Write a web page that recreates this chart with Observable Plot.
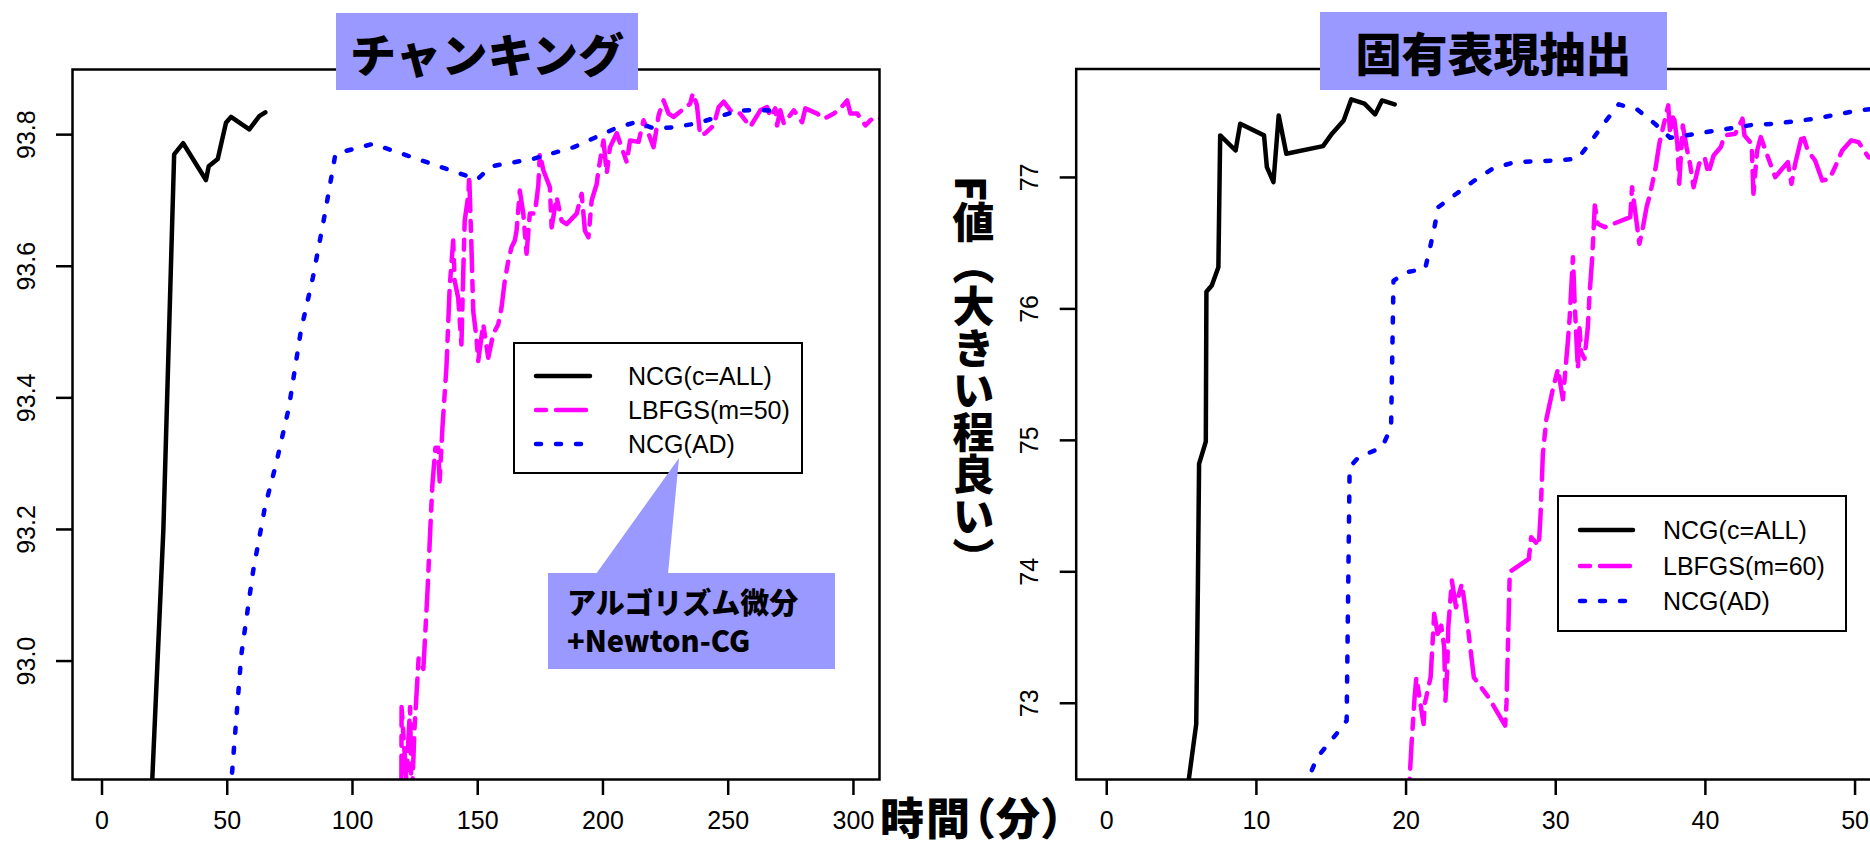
<!DOCTYPE html>
<html><head><meta charset="utf-8">
<script src="https://cdn.jsdelivr.net/npm/d3@7"></script>
<script src="https://cdn.jsdelivr.net/npm/@observablehq/plot@0.6"></script>
<style>
html,body{margin:0;padding:0;background:#fff;}
body{width:1870px;height:845px;overflow:hidden;position:relative;}
.abs{position:absolute;}
.jp{font-family:"Noto Sans CJK JP","Noto Sans CJK SC",sans-serif;font-weight:900;color:#000;}
.title{background:#9999FF;display:flex;align-items:center;justify-content:center;font-size:46px;line-height:1;}
.legend{background:#fff;border:2.5px solid #000;box-sizing:border-box;font-family:"Liberation Sans",Arial,sans-serif;font-size:25px;}
.legend .row{position:absolute;left:0;height:0;}
.legend .lab{position:absolute;transform:translateY(-50%);white-space:nowrap;line-height:1;}
svg{max-width:none !important;}
</style></head><body>
<div id="left" class="abs" style="left:0;top:0;width:900px"></div>
<div id="right" class="abs" style="left:935px;top:0;width:960px"></div>
<div id="overlay"></div>
<script>
// ---------- data ----------
const chunkXTicks = [0, 50, 100, 150, 200, 250, 300];
const chunkYTicks = [93.0, 93.2, 93.4, 93.6, 93.8];
const nerXTicks = [0, 10, 20, 30, 40, 50];
const nerYTicks = [73, 74, 75, 76, 77];

const chunkLegend = ["NCG(c=ALL)", "LBFGS(m=50)", "NCG(AD)"];
const nerLegend = ["NCG(c=ALL)", "LBFGS(m=60)", "NCG(AD)"];

// チャンキング: [time (min), F value]
const chunkNcgAll = [[19.6,92.78],[24.5,93.2],[28.8,93.77],[32.4,93.787],[41.5,93.731],[42.6,93.752],[46.2,93.763],[49.5,93.818],[51.5,93.827],[58.8,93.808],[62.8,93.828],[65.2,93.834]];
const chunkNcgAD = [[51.3,92.80],[55.6,93.009],[60.3,93.136],[65.1,93.235],[69.4,93.298],[74.6,93.385],[79.4,93.502],[84.2,93.583],[89.0,93.680],[93.2,93.771],[108.2,93.786],[149.8,93.732],[155.5,93.752],[171.9,93.763],[188.4,93.781],[205.2,93.810],[213.0,93.819],[220.8,93.809],[227.4,93.811],[237.5,93.817],[253.5,93.836],[261.8,93.838],[271.0,93.835]];
const chunkLbfgs = [[119.5,92.78],[119.6,92.93],[121.5,92.82],[123.0,92.93],[123.6,92.78],[124.8,92.90],[126.4,93.004],[128.3,92.988],[130.0,93.110],[131.2,93.212],[131.9,93.268],[133.1,93.324],[134.2,93.324],[134.8,93.273],[135.9,93.354],[137.5,93.446],[138.2,93.512],[138.8,93.568],[140.2,93.639],[140.8,93.578],[142.2,93.552],[143.5,93.481],[144.2,93.588],[144.8,93.669],[146.3,93.710],[146.6,93.738],[147.5,93.629],[148.2,93.532],[149.5,93.491],[150.2,93.456],[152.2,93.512],[154.2,93.461],[156.2,93.497],[158.2,93.512],[159.5,93.537],[160.8,93.578],[162.2,93.608],[163.5,93.629],[164.8,93.639],[165.5,93.654],[166.8,93.715],[168.2,93.680],[169.5,93.619],[170.8,93.680],[172.8,93.680],[174.2,93.723],[174.8,93.771],[176.2,93.746],[178.8,93.720],[179.5,93.659],[181.5,93.705],[183.5,93.669],[185.5,93.664],[189.5,93.680],[191.5,93.710],[192.8,93.654],[194.2,93.644],[195.5,93.700],[197.5,93.725],[198.2,93.746],[200.2,93.791],[201.5,93.741],[202.8,93.781],[205.5,93.802],[209.5,93.758],[210.8,93.791],[214.2,93.789],[216.2,93.822],[220.2,93.781],[222.2,93.829],[224.2,93.852],[226.2,93.832],[228.2,93.827],[231.5,93.837],[234.8,93.847],[235.9,93.863],[237.5,93.845],[238.8,93.799],[240.8,93.802],[244.2,93.814],[246.2,93.842],[248.2,93.850],[251.5,93.834],[254.8,93.832],[258.8,93.812],[262.8,93.837],[265.5,93.842],[266.8,93.827],[268.8,93.840],[269.5,93.814],[270.8,93.837],[272.2,93.817],[276.2,93.837],[279.5,93.819],[280.8,93.840],[285.5,93.832],[288.2,93.824],[292.2,93.832],[294.8,93.840],[297.5,93.852],[298.8,93.832],[301.5,93.832],[304.8,93.814],[306.8,93.822],[309.5,93.827],[311.5,93.823],[314.0,93.825]];

// 固有表現抽出: [time (min), F value]
const nerNcgAll = [[5.4,72.35],[5.98,72.842],[6.09,73.882],[6.17,74.821],[6.62,74.99],[6.66,76.13],[7.02,76.178],[7.46,76.317],[7.58,77.32],[8.61,77.205],[8.92,77.409],[10.51,77.32],[10.70,77.078],[11.14,76.964],[11.49,77.472],[12.00,77.18],[14.45,77.238],[15.05,77.333],[15.83,77.434],[16.34,77.594],[17.22,77.561],[17.93,77.479],[18.39,77.586],[19.24,77.556]];
const nerNcgAD = [[13.2,72.35],[14.06,72.588],[15.17,72.741],[16.03,72.868],[16.23,74.795],[16.82,74.871],[18.40,74.947],[19.0,75.10],[19.16,76.213],[19.96,76.279],[21.27,76.303],[21.56,76.444],[21.90,76.622],[22.15,76.774],[23.36,76.876],[24.57,76.977],[25.78,77.066],[27.23,77.116],[30.02,77.129],[31.47,77.142],[32.32,77.269],[33.29,77.421],[34.21,77.556],[35.47,77.515],[36.62,77.409],[37.64,77.302],[39.09,77.327],[40.43,77.352],[41.76,77.375],[43.21,77.401],[44.67,77.409],[46.00,77.428],[47.33,77.447],[48.78,77.479],[50.23,77.51],[51.8,77.53]];
const nerLbfgs = [[20.2,72.35],[20.38,72.715],[20.57,73.045],[20.69,73.197],[21.17,72.842],[21.25,72.995],[21.64,73.197],[21.88,73.68],[22.16,73.502],[22.35,73.591],[22.55,73.425],[22.63,73.02],[22.75,73.248],[22.82,73.578],[23.06,73.933],[23.34,73.73],[23.54,73.832],[23.73,73.908],[24.13,73.578],[24.53,73.197],[25.51,73.045],[26.62,72.83],[26.71,72.997],[26.93,74.0],[28.20,74.098],[28.36,74.263],[28.87,74.199],[28.99,74.441],[29.14,74.897],[29.37,75.158],[29.81,75.39],[30.15,75.544],[30.48,75.312],[30.81,75.75],[30.93,75.93],[31.15,76.393],[31.26,76.059],[31.37,75.801],[31.48,75.544],[31.59,75.852],[31.70,75.673],[31.92,75.621],[32.14,75.852],[32.26,76.11],[32.44,76.393],[32.61,76.787],[32.80,76.648],[33.29,76.622],[34.98,76.698],[35.10,76.926],[35.59,76.495],[35.83,76.622],[36.07,76.774],[36.31,76.876],[36.68,77.078],[36.92,77.256],[37.28,77.434],[37.52,77.548],[37.64,77.333],[37.88,77.485],[38.13,77.256],[38.25,76.952],[38.49,77.396],[38.74,77.231],[38.97,77.104],[39.21,76.926],[39.58,77.104],[39.95,77.154],[40.19,77.028],[40.55,77.167],[41.03,77.231],[41.28,77.32],[42.00,77.333],[42.48,77.447],[42.61,77.32],[43.09,77.256],[43.21,76.876],[43.46,77.205],[43.70,77.307],[44.18,77.154],[44.67,77.002],[45.03,77.053],[45.51,77.116],[45.75,76.952],[46.00,77.104],[46.48,77.333],[46.84,77.205],[47.33,77.129],[47.81,76.977],[48.29,76.99],[48.66,77.078],[49.14,77.205],[49.75,77.282],[50.23,77.269],[50.60,77.205],[50.90,77.154],[51.8,77.13]];

// ---------- styles ----------
const styles = [
  {color: "#000000", dash: null},
  {color: "#FF00FF", dash: "10,10,30,10"},
  {color: "#0000FF", dash: "5,15"}
];
const LW = 4.5;
const H = 845;

function panel(cfg) {
  const marks = [];
  cfg.series.forEach((data, i) => {
    marks.push(Plot.line(data, {x: d => d[0], y: d => d[1], stroke: styles[i].color, strokeWidth: LW,
      strokeDasharray: styles[i].dash, strokeLinecap: "round", strokeLinejoin: "round", clip: true}));
  });
  marks.push(Plot.frame({stroke: "#000", strokeWidth: 2.5}));
  marks.push(Plot.axisX({ticks: cfg.xTicks, tickSize: 16, tickPadding: 16, strokeWidth: 2.5, fontSize: 25, label: null, tickFormat: d => String(d)}));
  marks.push(Plot.axisY({ticks: cfg.yTicks, tickSize: 16, strokeWidth: 2.5, label: null, tickFormat: () => ""}));
  marks.push(Plot.text(cfg.yTicks, {y: d => d, text: cfg.yFmt, frameAnchor: "left", dx: -46, rotate: -90,
    fontSize: 25, textAnchor: "middle", lineAnchor: "middle"}));
  return Plot.plot({
    width: cfg.width, height: H,
    marginLeft: cfg.ml, marginRight: cfg.mr, marginTop: cfg.mt, marginBottom: H - 779,
    x: {domain: cfg.xDomain}, y: {domain: cfg.yDomain},
    style: {fontFamily: '"Liberation Sans", Arial, sans-serif', background: "transparent", overflow: "visible", maxWidth: "none"},
    marks
  });
}

document.getElementById("left").appendChild(panel({
  width: 900, ml: 72, mr: 21, mt: 69,
  xDomain: [-11.78, 310.4], yDomain: [92.820, 93.899],
  xTicks: chunkXTicks, yTicks: chunkYTicks, yFmt: d => d.toFixed(1),
  series: [chunkNcgAll, chunkLbfgs, chunkNcgAD]
}));
document.getElementById("right").appendChild(panel({
  width: 960, ml: 140.7, mr: 15, mt: 68.5,
  xDomain: [-2.04, 51.7], yDomain: [72.42, 77.825],
  xTicks: nerXTicks, yTicks: nerYTicks, yFmt: d => String(d),
  series: [nerNcgAll, nerLbfgs, nerNcgAD]
}));

// ---------- legends / annotations ----------
const ov = document.getElementById("overlay");
function el(html) { const d = document.createElement("div"); d.innerHTML = html; ov.appendChild(d.firstElementChild); }

function legend(x, y, w, h, rowY, sx1, sx2, tx, labels) {
  let rows = "";
  labels.forEach((lab, i) => {
    const s = styles[i];
    rows += `<div class="row" style="top:${rowY[i]}px;width:${w}px">
      <svg style="position:absolute;left:0;top:-10px;overflow:visible" width="${w}" height="20">
        <line x1="${sx1}" x2="${sx2}" y1="10" y2="10" stroke="${s.color}" stroke-width="${LW}" stroke-linecap="round" ${s.dash ? `stroke-dasharray="${s.dash}"` : ""}/>
      </svg>
      <span class="lab" style="left:${tx}px">${lab}</span></div>`;
  });
  el(`<div class="abs legend" style="left:${x}px;top:${y}px;width:${w}px;height:${h}px">${rows}</div>`);
}
legend(513, 342, 290, 132, [32, 66, 100], 21, 75, 113, chunkLegend);
legend(1557, 495, 290, 137, [33, 68.5, 104], 21, 74, 104, nerLegend);

// callout
el(`<svg class="abs" style="left:0;top:0" width="1870" height="845"><polygon points="596,574 668,574 679,458" fill="#9999FF"/></svg>`);
el(`<div class="abs" style="left:548px;top:573px;width:287px;height:96px;background:#9999FF;"></div>`);
el(`<div class="abs jp" style="left:567px;top:586px;font-size:29px;line-height:30px;height:30px;white-space:nowrap;">アルゴリズム微分</div>`);
el(`<div class="abs jp" style="left:567px;top:624px;font-size:29px;line-height:30px;height:30px;white-space:nowrap;">+Newton-CG</div>`);

// titles
el(`<div class="abs jp title" style="left:336px;top:13px;width:302px;height:77px;">チャンキング</div>`);
el(`<div class="abs jp title" style="left:1320px;top:12px;width:347px;height:78px;">固有表現抽出</div>`);

// axis titles
el(`<div class="abs jp" style="left:880px;top:796px;font-size:44px;line-height:40px;height:40px;letter-spacing:2px;white-space:nowrap;font-feature-settings:'palt';">時間（分）</div>`);
el(`<div class="abs jp" style="left:951px;top:176px;font-size:42px;line-height:44px;writing-mode:vertical-rl;text-orientation:mixed;white-space:nowrap;">F値（大きい程良い）</div>`);
</script>
</body></html>
